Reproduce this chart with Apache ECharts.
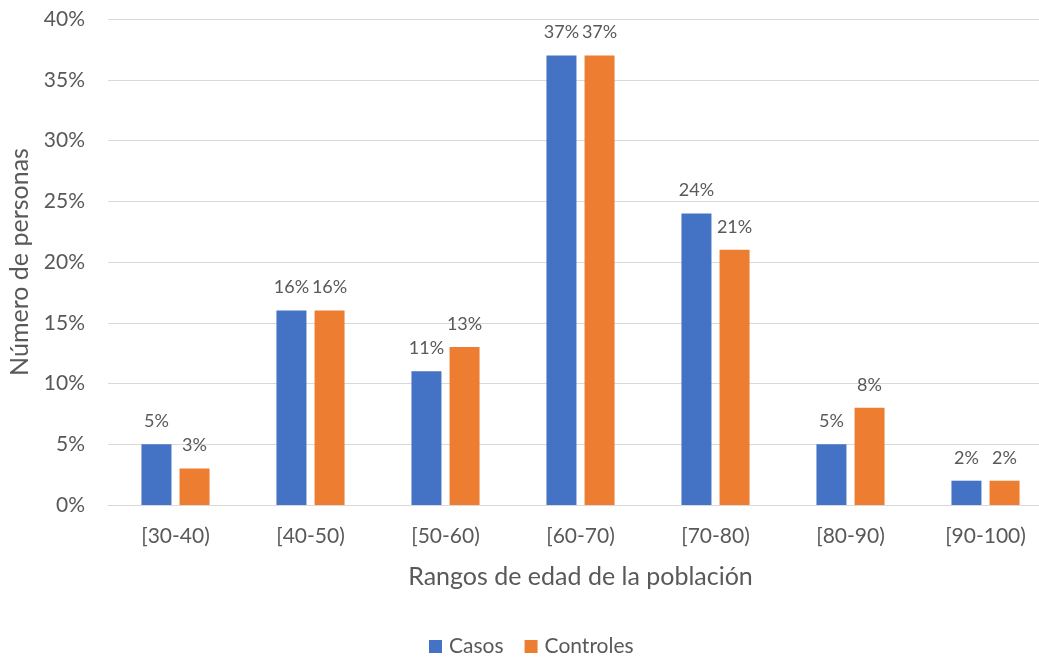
<!DOCTYPE html>
<html>
<head>
<meta charset="utf-8">
<title>Rangos de edad</title>
<script src="https://cdn.jsdelivr.net/npm/echarts@6/dist/echarts.min.js"></script>
<style>
  html, body { margin: 0; padding: 0; background: #ffffff; }
  #chart { width: 1039px; height: 659px; }
</style>
</head>
<body>
<div id="chart"></div>
<script>
// Age ranges and the share of people (%) in each group
const categories = ['[30-40)', '[40-50)', '[50-60)', '[60-70)', '[70-80)', '[80-90)', '[90-100)'];
const casos = [5, 16, 11, 37, 24, 5, 2];
const controles = [3, 16, 13, 37, 21, 8, 2];
const yTicks = [0, 5, 10, 15, 20, 25, 30, 35, 40];

const FONT = 'Lato, "Open Sans", sans-serif';
const TEXT = '#595959';

const chart = echarts.init(document.getElementById('chart'));

const labelStyle = {
  show: true,
  position: 'top',
  distance: 14,
  formatter: p => p.value + '%',
  color: TEXT,
  fontFamily: FONT,
  fontSize: 18
};

chart.setOption({
  animation: false,
  textStyle: { fontFamily: FONT, color: TEXT },
  // plot runs past the right edge so the last category sits wider apart
  grid: { left: 108, width: 945, top: 19, height: 486, containLabel: false, outerBoundsMode: 'none' },
  legend: {
    top: 631,
    left: 424,
    itemWidth: 13,
    itemHeight: 13,
    itemGap: 21,
    icon: 'rect',
    textStyle: { color: TEXT, fontFamily: FONT, fontSize: 21, padding: [0, 0, 0, 2] },
    data: ['Casos', 'Controles']
  },
  xAxis: {
    type: 'category',
    data: categories,
    name: 'Rangos de edad de la población',
    nameLocation: 'middle',
    nameGap: 59,
    nameTextStyle: { color: TEXT, fontFamily: FONT, fontSize: 25 },
    axisLine: { lineStyle: { color: '#d9d9d9', width: 1 } },
    axisTick: { show: false },
    axisLabel: { color: TEXT, fontFamily: FONT, fontSize: 21, margin: 21 }
  },
  yAxis: {
    type: 'value',
    min: yTicks[0],
    max: yTicks[yTicks.length - 1],
    interval: 5,
    name: 'Número de personas',
    nameLocation: 'middle',
    nameGap: 74,
    nameTextStyle: { color: TEXT, fontFamily: FONT, fontSize: 25 },
    axisLine: { show: false },
    axisTick: { show: false },
    axisLabel: { color: TEXT, fontFamily: FONT, fontSize: 21, margin: 23, formatter: v => v + '%' },
    splitLine: { lineStyle: { color: '#d9d9d9', width: 1 } }
  },
  series: [
    {
      name: 'Casos',
      type: 'bar',
      data: casos,
      barWidth: 30,
      barGap: '27%',
      itemStyle: { color: '#4472C4' },
      label: labelStyle
    },
    {
      name: 'Controles',
      type: 'bar',
      data: controles,
      barWidth: 30,
      barGap: '27%',
      itemStyle: { color: '#ED7D31' },
      label: labelStyle
    }
  ]
});
</script>
</body>
</html>
